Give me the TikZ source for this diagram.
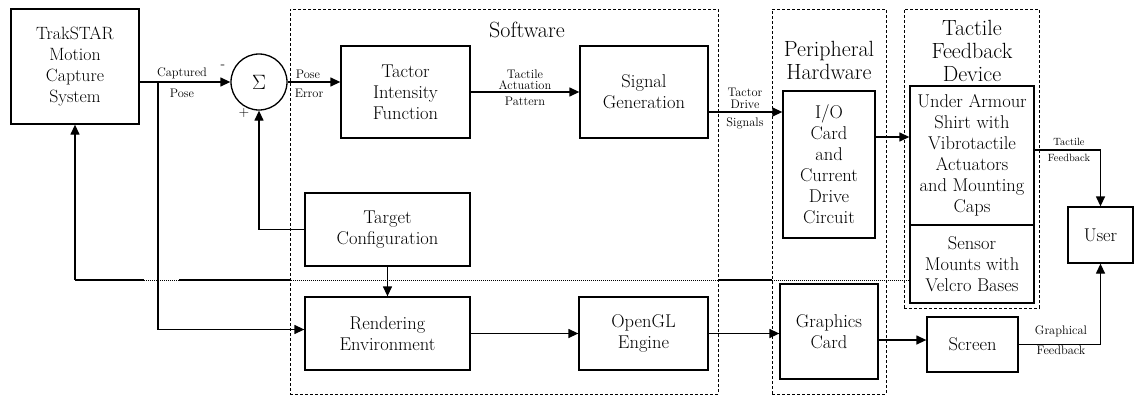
\documentclass[tikz,border=0pt]{standalone}
\usepackage{fontspec}
\usetikzlibrary{arrows.meta}
\begin{document}
\begin{tikzpicture}[x=1pt,y=-1pt,
  blk/.style={draw,line width=1.3pt,align=center,inner sep=0pt,font=\fontsize{18.5}{21}\selectfont},
  grp/.style={draw,line width=0.7pt,dash pattern=on 3pt off 2pt,inner sep=0pt},
  lbl/.style={inner sep=0pt,align=center,font=\fontsize{12.4}{12}\selectfont},
  ttl/.style={inner sep=0pt,align=center,font=\fontsize{22}{23}\selectfont},
  flow/.style={line width=1.3pt,-{Triangle[length=10pt,width=9pt]}},
  wire/.style={line width=1.3pt},
  dots/.style={line width=0.9pt,dash pattern=on 1pt off 1pt}]
\useasboundingbox (0,0) rectangle (1135,399);

% grouping frames
\node[grp,minimum width=428pt,minimum height=385pt] (sw) at (504,201.5) {};
\node[grp,minimum width=114pt,minimum height=385pt] (ph) at (829,201.5) {};
\node[grp,minimum width=135pt,minimum height=299pt] (tf) at (971.5,158.5) {};
\node[ttl] (swt) at (527,30) {Software};
\node[ttl] (pht) at (829,60) {Peripheral\\Hardware};
\node[ttl] (tft) at (972,51) {Tactile\\Feedback\\Device};

% blocks
\node[blk,minimum width=128pt,minimum height=115pt,font=\fontsize{17.8}{20.7}\selectfont] (trak) at (75,66.5) {TrakSTAR\\Motion\\Capture\\System};
\node[circle,draw,line width=1.3pt,minimum size=56pt,inner sep=0pt] (sum) at (259,82) {\fontsize{22}{22}\selectfont$\Sigma$};
\node[blk,minimum width=129pt,minimum height=92pt] (tif) at (405.5,92) {Tactor\\Intensity\\Function};
\node[blk,minimum width=128pt,minimum height=92pt] (sg) at (644,92) {Signal\\Generation};
\node[blk,minimum width=165pt,minimum height=73pt] (tc) at (387.5,229.5) {Target\\Configuration};
\node[blk,minimum width=165pt,minimum height=73pt] (re) at (387.5,333.5) {Rendering\\Environment};
\node[blk,minimum width=129pt,minimum height=73pt] (ogl) at (643.5,333.5) {OpenGL\\Engine};
\node[blk,minimum width=92pt,minimum height=147pt] (io) at (829,164.5) {I/O\\Card\\and\\Current\\Drive\\Circuit};
\node[blk,minimum width=124pt,minimum height=139pt] (ua) at (972,155.5) {Under Armour\\Shirt with\\Vibrotactile\\Actuators\\and Mounting\\Caps};
\node[blk,minimum width=124pt,minimum height=78pt] (sm) at (972,264) {Sensor\\Mounts with\\Velcro Bases};
\node[blk,minimum width=98pt,minimum height=95pt] (gc) at (829,331.5) {Graphics\\Card};
\node[blk,minimum width=91pt,minimum height=55pt] (scr) at (972.5,344.5) {Screen};
\node[blk,minimum width=65pt,minimum height=56pt] (user) at (1100.5,235) {User};

% summing junction signs
\node[lbl,font=\fontsize{14}{14}\selectfont] (minus) at (223,67) {-};
\node[lbl,font=\fontsize{14}{14}\selectfont] (plus) at (244,113) {+};

% control loop
\coordinate (br) at (158,82);
\draw[flow] (trak.east |- sum) -- (sum.west);
\node[lbl] (capt) at (182,73) {Captured};
\node[lbl] (capp) at (182,93) {Pose};
\draw[flow] (br) |- ([yshift=4pt]re.west);
\draw[flow] (sum.east) -- (sum.east -| tif.west);
\node[lbl] (pe1) at (308,74) {Pose};
\node[lbl] (pe2) at (309,93) {Error};
\draw[flow] (tc.west) -| (sum.south);
\draw[flow] (tif.east) -- (sg.west);
\node[lbl,font=\fontsize{12.4}{11}\selectfont] (tap) at (525,80) {Tactile\\Actuation};
\node[lbl] (tap2) at (525,101) {Pattern};
\draw[flow] ([yshift=-20pt]sg.east) -- ([yshift=-20pt]sg.east -| io.west);
\node[lbl,font=\fontsize{12.4}{12}\selectfont] (tds) at (745,98) {Tactor\\Drive};
\node[lbl] (tds2) at (745,123) {Signals};
\draw[flow] ([yshift=27.5pt]io.east) -- ([yshift=27.5pt]io.east -| ua.west);
\draw[flow] ([yshift=5.5pt]ua.east) -| (user.north);
\node[lbl,font=\fontsize{10.5}{16}\selectfont] (tfb) at (1069,150) {Tactile\\Feedback};

% graphics chain
\draw[flow] (tc.south) -- (re.north);
\draw[flow] (re.east) -- (ogl.west);
\draw[flow] (ogl.east) -- (ogl.east -| gc.west);
\draw[flow] ([yshift=-8.5pt]gc.east) -- ([yshift=-8.5pt]gc.east -| scr.west);
\draw[flow] (scr.east) -| (user.south);
\node[lbl] (gf1) at (1061,331) {Graphical};
\node[lbl] (gf2) at (1061,350) {Feedback};

% sensor feedback to the tracker
\coordinate (s1) at (sm.west |- 0,280);
\coordinate (s2) at (772,280);
\coordinate (s3) at (718,280);
\coordinate (s4) at (290,280);
\coordinate (s5) at (179,280);
\coordinate (s6) at (144,280);
\coordinate (s7) at (trak.south |- 0,280);
\draw[dots] (s1) -- (s2);
\draw[wire] (s2) -- (s3);
\draw[dots] (s3) -- (s4);
\draw[wire] (s4) -- (s5);
\draw[dots] (s5) -- (s6);
\draw[wire] (s6) -- (s7);
\draw[flow] (s7) -- (trak.south);
\end{tikzpicture}
\end{document}
